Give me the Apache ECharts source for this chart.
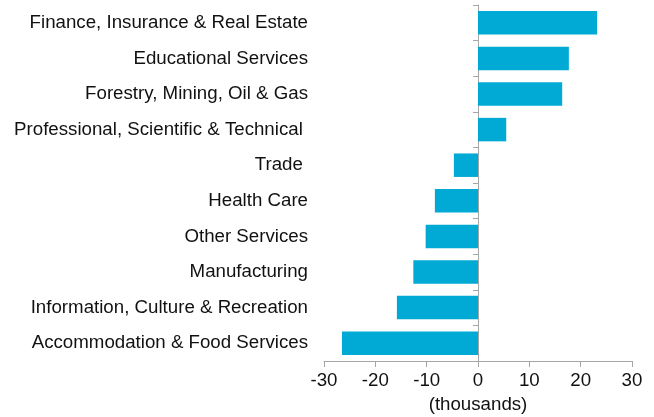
<!DOCTYPE html>
<html>
<head>
<meta charset="utf-8">
<script src="https://cdn.jsdelivr.net/npm/echarts@6/dist/echarts.min.js"></script>
<style>
  html, body { margin: 0; padding: 0; background: #fff; }
  #chart { width: 654px; height: 417px; }
</style>
</head>
<body>
<div id="chart"></div>
<script>
// bottom to top, as the category axis draws them
const industries = [
  'Accommodation & Food Services',
  'Information, Culture & Recreation',
  'Manufacturing',
  'Other Services',
  'Health Care',
  'Trade ',
  'Professional, Scientific & Technical ',
  'Forestry, Mining, Oil & Gas',
  'Educational Services',
  'Finance, Insurance & Real Estate'
]
const change = [-26.5, -15.8, -12.6, -10.2, -8.4, -4.7, 5.5, 16.4, 17.7, 23.2]

const chart = echarts.init(document.getElementById('chart'))
const font = 'Liberation Sans, Arial, sans-serif'
const fs = 18.7

chart.setOption({
  animation: false,
  grid: { left: 324, right: 22, top: 5, bottom: 56, outerBoundsMode: 'none' },
  xAxis: {
    type: 'value',
    min: -30, max: 30, interval: 10,
    name: '(thousands)',
    nameLocation: 'middle',
    nameGap: 33,
    nameTextStyle: { color: '#111', fontSize: fs, fontFamily: font },
    splitLine: { show: false },
    axisLine: { show: true, lineStyle: { color: '#a6a6a6' } },
    axisTick: { show: true, length: 6, lineStyle: { color: '#a6a6a6' } },
    axisLabel: { color: '#111', fontSize: fs, fontFamily: font, margin: 10 }
  },
  yAxis: [
    {
      type: 'category',
      data: industries,
      axisLine: { show: false, onZero: false },
      axisTick: { show: false },
      axisLabel: { color: '#111', fontSize: fs, fontFamily: font, margin: 16 }
    },
    {
      // zero line with the small ticks between categories
      type: 'category',
      data: industries,
      position: 'left',
      axisLine: { show: true, onZero: true, lineStyle: { color: '#a6a6a6' } },
      axisTick: { show: true, length: 5, lineStyle: { color: '#a6a6a6' } },
      axisLabel: { show: false }
    }
  ],
  series: [{
    type: 'bar',
    data: change,
    barCategoryGap: '34%',
    itemStyle: { color: '#00aad4' }
  }]
})
</script>
</body>
</html>
